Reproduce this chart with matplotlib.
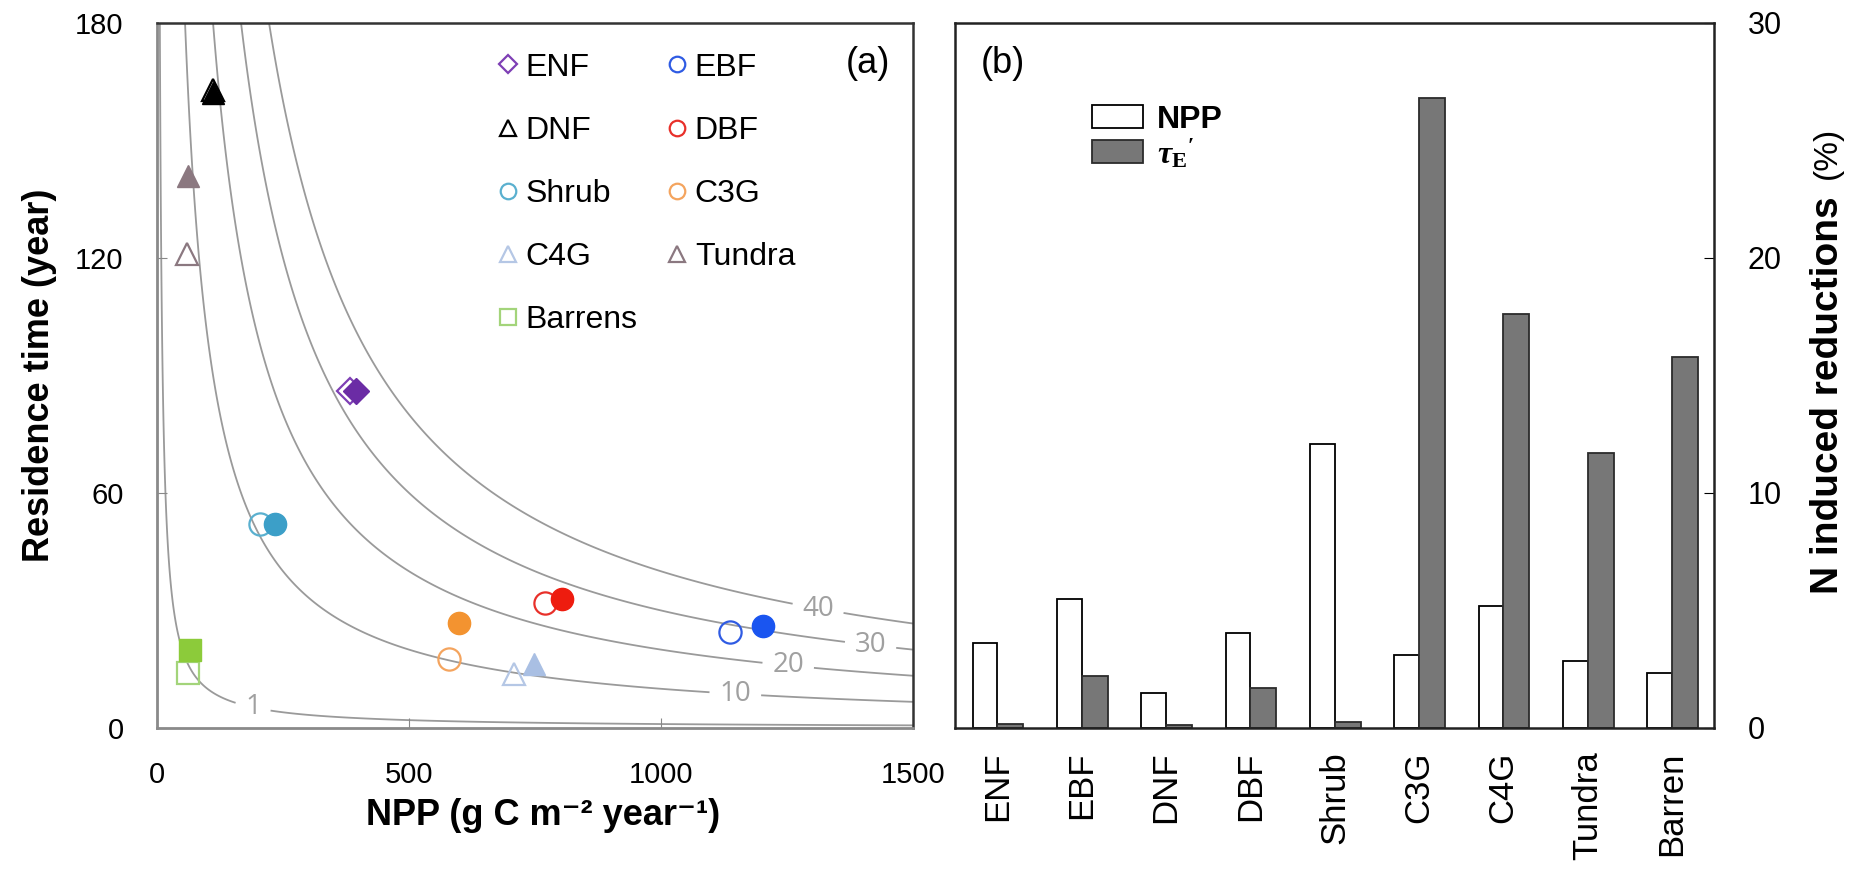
import numpy as np
import matplotlib
matplotlib.use("Agg")
import matplotlib.pyplot as plt

plt.rcParams['font.family'] = ['Liberation Sans', 'DejaVu Sans']
plt.rcParams['mathtext.fontset'] = 'custom'
plt.rcParams['mathtext.rm'] = 'Liberation Serif:bold'
plt.rcParams['mathtext.it'] = 'Liberation Serif:italic:bold'
plt.rcParams['mathtext.bf'] = 'Liberation Serif:bold'

# ---- (a) residence time vs NPP (open = without N, filled = with N limitation)
pfts = ['ENF', 'EBF', 'DNF', 'DBF', 'Shrub', 'C3G', 'C4G', 'Tundra', 'Barrens']
npp_open = [383, 1137, 111, 769, 204, 579, 708, 59, 62]
tau_open = [86, 24.5, 163, 32, 52, 17.6, 13.8, 121, 14]
npp_fill = [394, 1202, 112, 803, 234, 600, 748, 62, 65]
tau_fill = [86, 26, 162, 33, 52, 26.7, 16.4, 141, 20]
markers = ['D', 'o', '^', 'o', 'o', 'o', '^', '^', 's']
col_open = ['#7E3FB5', '#2F5BE3', '#000000', '#E8302A', '#5AB0CF',
            '#F4A45E', '#B5C7E5', '#8B7880', '#A3D47A']
col_fill = ['#6B2CA5', '#1A55F0', '#000000', '#EE1C0F', '#3C9FC8',
            '#F39330', '#A9BFE3', '#8B7880', '#8CCB3A']
msize = [13, 16, 16, 16, 16, 16, 16, 16, 16]

# iso-lines of carbon storage (kg C m-2) = NPP * tau / 1000
iso_levels = [1, 10, 20, 30, 40]
iso_label_pos = [(190, 5.1), (1147, 7.9), (1252, 15.6), (1415, 20.4), (1310, 29.4)]

# ---- (b) N induced reductions (%)
bar_pfts = ['ENF', 'EBF', 'DNF', 'DBF', 'Shrub', 'C3G', 'C4G', 'Tundra', 'Barren']
npp_red = [3.6, 5.5, 1.5, 4.05, 12.1, 3.1, 5.2, 2.85, 2.35]
tau_red = [0.15, 2.2, 0.12, 1.7, 0.25, 26.8, 17.6, 11.7, 15.8]

fig = plt.figure(figsize=(18.52, 8.69), dpi=100)
ax1 = fig.add_axes([0.0848, 0.1623, 0.4082, 0.8113])
ax2 = fig.add_axes([0.5157, 0.1623, 0.4098, 0.8113])

# iso-lines through contour of the product field
g_npp = np.geomspace(1, 1500, 3000)
g_tau = np.linspace(0, 180, 901)
NN, TT = np.meshgrid(g_npp, g_tau)
cs = ax1.contour(NN, TT, NN * TT / 1000.0, levels=iso_levels,
                 colors='#9a9a9a', linewidths=1.3, zorder=1)
with plt.rc_context({'font.family': ['Open Sans', 'DejaVu Sans']}):
    iso_txt = ax1.clabel(cs, manual=iso_label_pos, inline=True, fmt='%d',
                         fontsize=20, colors='#a0a0a0', inline_spacing=10)
for t in iso_txt:
    t.set_rotation(0)

for i, p in enumerate(pfts):
    ax1.plot(npp_open[i], tau_open[i], linestyle='none', marker=markers[i],
             ms=msize[i], mfc='none', mec=col_open[i], mew=1.6, label=p, zorder=3)
    ax1.plot(npp_fill[i], tau_fill[i], linestyle='none', marker=markers[i],
             ms=msize[i], mfc=col_fill[i], mec=col_fill[i], mew=1.0, zorder=4)

ax1.set_xlim(0, 1500)
ax1.set_ylim(0, 180)
ax1.set_xticks([0, 500, 1000, 1500])
ax1.set_yticks([0, 60, 120, 180])
ax1.tick_params(direction='in', length=7, color='#888888', labelsize=21)
ax1.tick_params(axis='x', pad=24)
ax1.tick_params(axis='y', pad=24)
for s in ['left', 'bottom']:
    ax1.spines[s].set_color('#8a8a8a')
    ax1.spines[s].set_linewidth(2)
for s in ['top', 'right']:
    ax1.spines[s].set_color('#333333')
    ax1.spines[s].set_linewidth(1.8)

ax1.set_xlabel('NPP (g C m\u207b\u00b2 year\u207b\u00b9)', fontsize=26, fontweight='bold')
ax1.set_ylabel('Residence time (year)', fontsize=26, fontweight='bold')
ax1.xaxis.set_label_coords(0.51, -0.10)
ax1.yaxis.set_label_coords(-0.133, 0.5)

# legend: order so that two columns read row-wise
h, l = ax1.get_legend_handles_labels()
order = [0, 2, 4, 6, 8, 1, 3, 5, 7]
leg = ax1.legend([h[k] for k in order], [l[k] for k in order], ncol=2,
                 loc='upper left', bbox_to_anchor=(0.447, 0.958), frameon=False,
                 fontsize=23, markerscale=0.7, handlelength=0.8, handletextpad=0.15,
                 columnspacing=0.85, labelspacing=1.04, borderpad=0, borderaxespad=0)
ax1.text(0.94, 0.943, '(a)', transform=ax1.transAxes, fontsize=26,
         ha='center', va='center')

# ---- bars
x = np.arange(len(bar_pfts))
ax2.bar(x, npp_red, width=-0.29, align='edge', color='white',
        edgecolor='black', linewidth=1.3, label='NPP')
ax2.bar(x, tau_red, width=0.31, align='edge', color='#777777',
        edgecolor='#2b2b2b', linewidth=1.3, label=r"$\tau_{\rm E}{}^{\prime}$")
ax2.set_xlim(-0.5, len(bar_pfts) - 0.5)
ax2.set_ylim(0, 30)
ax2.set_yticks([0, 10, 20, 30])
ax2.yaxis.tick_right()
ax2.tick_params(axis='y', direction='in', length=7, pad=24, labelsize=22)
ax2.set_xticks(x)
ax2.set_xticklabels(bar_pfts, rotation=90)
ax2.tick_params(axis='x', length=0, pad=17, labelsize=25)
for s in ax2.spines.values():
    s.set_linewidth(1.8)
    s.set_color('#222222')

ax2.legend(loc='upper left', bbox_to_anchor=(0.18, 0.884), frameon=False,
           prop={'size': 23, 'weight': 'bold'}, handlelength=1.6,
           handleheight=0.72, handletextpad=0.45, labelspacing=0.05,
           borderpad=0, borderaxespad=0)
ax2.text(0.063, 0.943, '(b)', transform=ax2.transAxes, fontsize=26,
         ha='center', va='center')
ax2.text(1.150, 0.472, 'N induced reductions', transform=ax2.transAxes,
         rotation=90, ha='center', va='center', fontsize=28, fontweight='bold')
ax2.text(1.150, 0.816, '(%)', transform=ax2.transAxes,
         rotation=90, ha='center', va='center', fontsize=24)

fig.savefig('out.png', dpi=100)
